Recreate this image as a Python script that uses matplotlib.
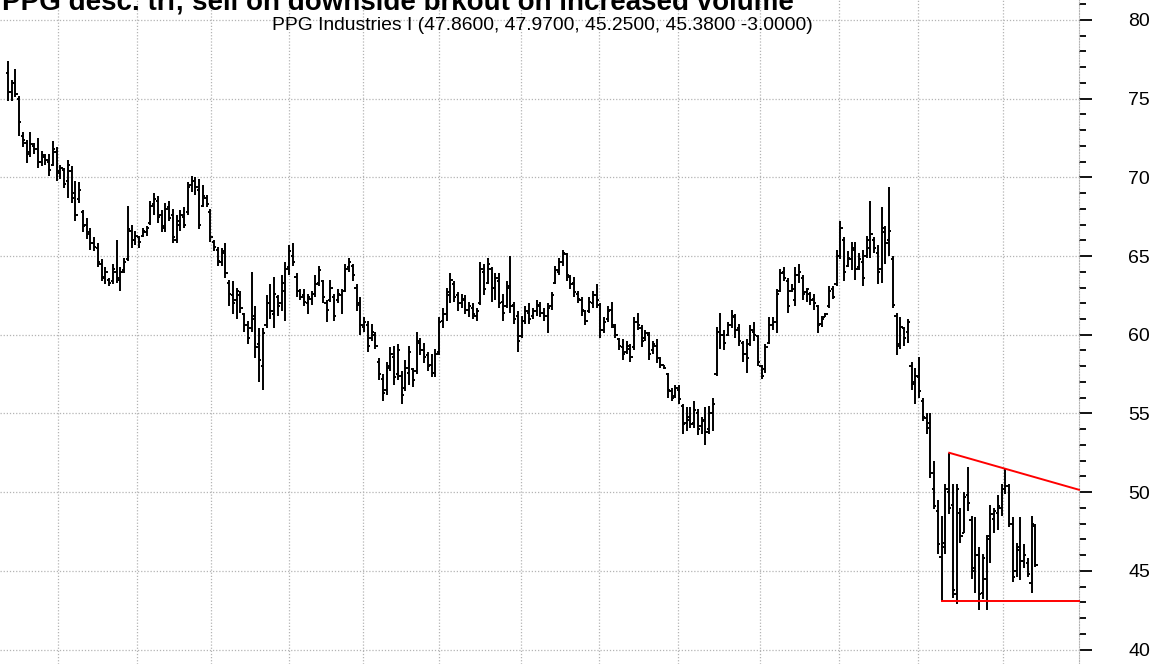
import matplotlib
matplotlib.use("Agg")
import matplotlib.pyplot as plt
from matplotlib.ticker import MultipleLocator
import numpy as np

plt.rcParams['font.family'] = ['Liberation Sans', 'DejaVu Sans']

title = "PPG desc. tri; sell on downside brkout on increased volume"
subtitle = "PPG Industries I (47.8600, 47.9700, 45.2500, 45.3800 -3.0000)"

# daily OHLC, oldest first
opens = [
    76.6, 75.4, 76.0, 75.0, 72.6, 72.2, 71.6, 72.0, 71.8, 71.0,
    71.3, 71.0, 70.8, 71.6, 70.3, 70.5, 69.8, 70.4, 69.0, 68.6,
    67.8, 67.0, 66.5, 65.8, 65.5, 64.5, 63.6, 63.5, 63.4, 64.0,
    63.5, 64.1, 64.8, 66.6, 66.0, 66.2, 66.3, 66.5, 67.1, 68.3,
    68.5, 67.6, 66.8, 68.1, 67.6, 66.0, 67.0, 67.5, 67.8, 69.5,
    69.8, 69.2, 68.2, 68.7, 67.8, 65.9, 65.4, 64.6, 65.3, 63.3,
    62.5, 62.2, 62.5, 61.3, 60.6, 60.4, 61.2, 59.4, 58.0, 60.6,
    62.0, 61.3, 62.4, 62.0, 62.8, 64.3, 65.0, 63.7, 62.8, 62.5,
    62.0, 62.3, 62.6, 63.3, 63.4, 62.0, 62.2, 62.4, 62.2, 62.5,
    62.8, 64.3, 64.4, 63.0, 62.0, 60.5, 60.6, 59.8, 60.0, 58.3,
    57.2, 56.5, 58.0, 58.6, 57.5, 57.4, 56.6, 57.6, 57.8, 57.7,
    59.5, 59.0, 58.7, 58.1, 57.6, 58.9, 60.9, 61.3, 62.5, 63.2,
    62.5, 62.0, 62.2, 61.6, 61.7, 61.2, 62.0, 64.0, 63.3, 64.2,
    63.0, 63.4, 62.1, 61.8, 63.1, 61.9, 61.2, 59.9, 60.9, 61.4,
    61.2, 61.5, 61.8, 61.4, 61.2, 61.8, 63.3, 64.0, 64.6, 65.1,
    63.7, 63.3, 62.6, 62.2, 61.5, 61.5, 62.0, 62.5, 61.9, 60.3,
    61.0, 61.6, 60.5, 59.7, 59.2, 58.9, 59.1, 59.2, 60.8, 60.4,
    59.8, 60.0, 59.0, 59.3, 58.5, 58.1, 57.5, 56.4, 56.1, 56.5,
    55.5, 54.4, 54.8, 54.4, 55.0, 54.2, 54.6, 54.0, 55.0, 57.5,
    60.2, 60.0, 60.0, 60.6, 61.1, 60.4, 59.5, 58.8, 59.4, 60.2,
    59.9, 58.0, 57.8, 59.5, 60.6, 60.8, 62.8, 64.0, 63.4, 62.8,
    62.2, 63.8, 63.6, 62.7, 62.6, 62.3, 61.8, 60.7, 61.1, 61.8,
    62.9, 63.2, 65.0, 66.0, 64.4, 64.8, 65.4, 64.3, 64.6, 65.0,
    65.5, 66.0, 65.2, 64.2, 66.5, 66.0, 64.8, 61.2, 59.4, 60.4,
    60.2, 58.0, 57.0, 57.3, 55.8, 54.7, 54.4, 50.2, 48.8, 45.9,
    46.8, 50.0, 49.2, 43.5, 48.7, 47.4, 49.8, 48.2, 45.2, 46.0,
    43.6, 44.5, 47.2, 48.3, 48.7, 49.0, 50.2, 50.4, 48.0, 45.0,
    46.5, 45.6, 45.5, 44.2, 47.86,
]
highs = [
    77.4, 76.2, 76.9, 75.2, 72.9, 72.4, 72.9, 72.2, 72.5, 71.7,
    71.5, 71.5, 72.3, 71.9, 70.8, 70.6, 71.1, 70.7, 69.8, 69.7,
    67.9, 67.4, 66.8, 66.2, 65.8, 64.8, 64.3, 63.6, 64.5, 66.0,
    64.3, 64.9, 68.2, 67.0, 66.6, 66.3, 66.8, 66.9, 68.5, 69.0,
    68.8, 67.9, 68.4, 68.5, 68.0, 67.6, 67.9, 68.1, 69.7, 70.1,
    70.0, 69.9, 69.5, 68.9, 68.0, 66.0, 65.6, 65.5, 65.8, 63.5,
    63.4, 63.0, 62.8, 61.4, 60.9, 64.0, 61.8, 60.4, 60.4, 62.5,
    63.2, 63.7, 62.5, 63.8, 64.6, 65.7, 65.8, 63.9, 62.9, 62.9,
    62.6, 62.8, 63.8, 64.4, 63.5, 62.2, 63.5, 62.6, 62.9, 62.9,
    64.5, 64.9, 64.5, 63.2, 62.4, 61.1, 60.9, 60.7, 60.2, 58.5,
    57.5, 58.3, 59.2, 59.3, 59.4, 57.7, 58.4, 59.3, 57.9, 60.2,
    59.8, 59.5, 58.9, 58.8, 59.1, 61.1, 61.7, 63.0, 63.9, 63.4,
    62.7, 62.6, 62.5, 62.1, 62.0, 61.7, 64.6, 64.5, 64.9, 64.3,
    63.9, 63.9, 62.6, 63.4, 65.0, 62.1, 61.5, 61.2, 61.8, 62.0,
    61.7, 62.2, 62.1, 61.7, 62.0, 62.7, 64.4, 64.9, 65.4, 65.2,
    63.8, 63.7, 62.8, 62.4, 61.6, 62.4, 62.8, 63.2, 62.0, 61.1,
    61.8, 62.1, 60.7, 59.8, 59.7, 59.6, 59.4, 61.1, 61.4, 60.6,
    60.3, 60.2, 59.6, 59.7, 58.6, 58.1, 57.6, 56.6, 56.8, 56.8,
    55.6, 55.4, 55.4, 55.8, 55.3, 54.8, 55.4, 55.5, 56.0, 60.5,
    61.4, 60.3, 60.8, 61.6, 61.3, 60.7, 59.6, 59.7, 60.6, 60.8,
    60.0, 58.1, 59.4, 61.1, 61.1, 62.9, 64.2, 64.3, 63.6, 63.2,
    64.3, 64.5, 63.8, 63.0, 62.7, 62.6, 61.9, 61.2, 61.4, 63.1,
    63.1, 65.4, 67.2, 66.2, 65.3, 65.9, 65.9, 65.2, 65.4, 66.3,
    68.5, 66.2, 65.7, 68.1, 66.9, 69.4, 65.0, 61.4, 61.1, 60.5,
    61.0, 58.3, 57.9, 58.6, 56.0, 55.0, 55.0, 52.0, 49.5, 48.5,
    50.5, 52.5, 50.5, 50.5, 49.0, 50.0, 51.6, 48.5, 48.4, 46.5,
    46.1, 47.3, 49.2, 49.0, 49.8, 50.5, 51.5, 50.5, 48.4, 46.8,
    48.4, 46.7, 45.8, 48.5, 47.97,
]
lows = [
    74.85, 74.85, 75.1, 72.6, 71.9, 70.9, 71.3, 71.5, 70.6, 70.7,
    70.8, 70.1, 70.7, 69.8, 69.9, 69.3, 68.7, 68.4, 67.2, 68.4,
    66.5, 66.1, 65.4, 65.3, 64.3, 63.4, 63.2, 63.1, 63.2, 63.3,
    62.8, 63.9, 64.7, 65.5, 65.7, 65.5, 66.2, 66.3, 67.0, 67.6,
    67.1, 66.5, 66.5, 67.2, 65.8, 65.8, 66.6, 66.8, 67.6, 69.1,
    68.9, 66.7, 68.1, 68.1, 65.9, 65.3, 64.4, 64.4, 63.6, 61.8,
    61.3, 61.0, 61.4, 60.2, 59.4, 60.2, 58.5, 57.0, 56.5, 60.4,
    61.0, 60.4, 61.2, 61.5, 60.9, 63.8, 64.4, 62.4, 62.2, 61.8,
    61.3, 61.9, 62.4, 63.1, 62.0, 60.8, 62.1, 60.9, 62.0, 61.3,
    62.7, 64.0, 63.4, 61.5, 60.0, 60.2, 58.9, 59.6, 59.1, 57.1,
    55.8, 56.2, 57.7, 56.8, 57.1, 55.6, 56.4, 56.8, 56.7, 57.5,
    58.7, 58.2, 57.7, 57.3, 57.3, 58.7, 60.4, 60.9, 62.0, 62.1,
    61.5, 61.7, 61.3, 61.1, 61.0, 60.9, 61.9, 62.5, 63.2, 62.1,
    62.2, 61.7, 60.9, 61.7, 61.4, 60.7, 58.9, 59.8, 60.7, 60.7,
    61.0, 61.2, 61.1, 60.9, 60.1, 61.6, 63.2, 63.8, 64.4, 63.4,
    62.9, 62.4, 62.0, 61.2, 60.6, 61.4, 61.7, 61.7, 59.8, 60.1,
    60.8, 60.4, 59.8, 59.0, 58.4, 58.8, 58.3, 59.0, 60.3, 59.2,
    59.6, 58.4, 58.8, 58.2, 57.9, 57.8, 56.0, 55.8, 56.0, 55.6,
    53.7, 53.9, 54.1, 54.1, 53.6, 53.7, 53.0, 53.7, 53.9, 57.4,
    59.1, 59.0, 59.9, 60.4, 59.8, 59.3, 58.3, 57.6, 59.3, 59.6,
    58.0, 57.2, 57.6, 59.4, 60.3, 60.1, 62.7, 63.4, 61.4, 62.7,
    61.8, 63.3, 62.2, 62.1, 61.9, 61.6, 60.1, 60.5, 61.1, 61.7,
    62.3, 63.1, 64.8, 63.4, 64.3, 64.1, 63.5, 64.1, 63.1, 64.9,
    64.9, 65.2, 63.2, 63.3, 64.5, 65.0, 61.7, 58.7, 59.1, 59.3,
    59.5, 56.5, 55.6, 56.0, 54.5, 53.7, 50.9, 48.9, 46.1, 43.1,
    46.1, 48.6, 43.3, 42.9, 46.8, 47.4, 48.8, 44.5, 43.6, 42.5,
    43.2, 42.5, 45.5, 47.4, 47.6, 48.5, 49.9, 47.8, 44.3, 44.6,
    44.4, 45.2, 44.6, 43.6, 45.25,
]
closes = [
    75.4, 76.0, 75.3, 73.5, 72.4, 71.5, 72.1, 71.8, 71.0, 71.4,
    71.1, 70.5, 71.8, 70.4, 70.6, 69.6, 70.8, 68.7, 67.6, 69.2,
    66.9, 66.4, 65.8, 65.6, 64.6, 63.7, 64.0, 63.3, 64.2, 63.6,
    64.0, 64.6, 66.7, 66.0, 66.3, 65.9, 66.6, 66.8, 68.2, 68.6,
    67.5, 66.9, 68.0, 67.4, 66.2, 67.2, 67.6, 67.0, 69.4, 69.8,
    69.4, 67.0, 68.8, 68.3, 66.2, 65.6, 64.7, 65.2, 63.9, 62.6,
    62.0, 62.8, 61.7, 60.6, 59.8, 61.0, 59.2, 58.4, 60.1, 62.0,
    61.5, 62.6, 61.8, 63.3, 64.2, 65.3, 64.6, 62.8, 62.4, 62.1,
    62.4, 62.6, 63.2, 64.1, 62.4, 61.6, 63.0, 61.2, 62.6, 62.8,
    64.2, 64.6, 63.8, 61.9, 60.6, 60.8, 59.3, 60.2, 59.3, 57.5,
    56.3, 57.9, 58.8, 57.3, 59.0, 56.2, 57.9, 58.9, 57.1, 59.6,
    59.0, 58.6, 58.0, 57.6, 58.8, 60.8, 61.3, 62.7, 63.5, 62.4,
    62.0, 62.3, 61.6, 61.8, 61.3, 61.5, 64.2, 62.9, 64.5, 63.0,
    63.6, 62.0, 61.4, 63.0, 61.8, 61.0, 59.6, 60.9, 61.5, 61.0,
    61.5, 61.9, 61.4, 61.2, 61.7, 62.5, 64.1, 64.6, 65.2, 63.8,
    63.2, 62.7, 62.3, 61.6, 60.9, 62.1, 62.5, 62.2, 60.3, 60.8,
    61.5, 60.6, 60.0, 59.3, 58.8, 59.3, 58.6, 60.8, 60.6, 59.6,
    60.1, 58.8, 59.4, 58.5, 58.1, 57.9, 56.5, 56.0, 56.6, 55.9,
    54.3, 54.6, 54.3, 55.2, 54.0, 54.5, 53.8, 55.0, 55.6, 60.2,
    60.0, 59.5, 60.6, 61.2, 60.3, 59.6, 58.8, 58.5, 60.3, 60.0,
    58.3, 57.4, 59.2, 60.6, 60.8, 62.6, 63.9, 63.6, 61.8, 62.9,
    63.8, 64.0, 62.6, 62.9, 62.2, 62.0, 60.6, 61.0, 61.3, 62.8,
    62.4, 65.0, 66.8, 64.0, 64.9, 65.5, 64.2, 64.8, 63.6, 66.0,
    66.4, 65.5, 64.0, 66.8, 65.8, 66.6, 61.9, 59.3, 60.5, 59.8,
    60.8, 56.9, 57.4, 56.4, 54.8, 54.1, 51.2, 49.1, 46.7, 46.5,
    50.2, 49.0, 43.8, 50.2, 47.2, 49.7, 49.3, 45.0, 46.0, 43.5,
    45.8, 47.0, 48.6, 48.8, 49.1, 50.2, 50.4, 48.0, 44.6, 46.3,
    45.6, 46.0, 44.8, 48.0, 45.38,
]

# month boundaries (in bar units) used as vertical grid lines
month_lines = [13.3, 34.4, 54.1, 74.9, 94.7, 114.9, 136.8, 157.6, 178.7,
               200.5, 221.6, 242.7, 265.3]

# triangle drawn on the chart: (bar, price) end points
resistance = [(251, 52.5), (285.6, 50.15)]
support = [(249, 43.1), (285.6, 43.1)]

fig = plt.figure(figsize=(11.66, 6.64), dpi=100)
ax = fig.add_axes([0, 0, 1079 / 1166, 1])
ax.set_xlim(-2.13, 285.6)
ax.set_ylim(39.08, 81.27)

x = np.arange(len(closes))
ax.vlines(x, lows, highs, color='black', lw=1.4, zorder=3)
ax.hlines(opens, x - 0.6, x, color='black', lw=1.4, zorder=3)
ax.hlines(closes, x, x + 0.6, color='black', lw=1.4, zorder=3)

for (x0, y0), (x1, y1) in [resistance, support]:
    ax.plot([x0, x1], [y0, y1], color='red', lw=1.4, zorder=4, clip_on=False)

grid_kw = dict(color='#b4b4b4', ls=(0, (1, 1.5)), lw=0.9, zorder=1)
for m in month_lines:
    ax.axvline(m, **grid_kw)
for p in range(40, 81, 5):
    ax.axhline(p, **grid_kw)

ax.yaxis.tick_right()
ax.yaxis.set_major_locator(MultipleLocator(5))
ax.yaxis.set_minor_locator(MultipleLocator(1))
ax.tick_params(axis='y', which='major', length=9.5, width=1.3, pad=26,
               labelsize=14, colors='black')
ax.tick_params(axis='y', which='minor', length=5, width=1.3)
ax.set_xticks([])
for side in ['left', 'top', 'bottom']:
    ax.spines[side].set_visible(False)
ax.spines['right'].set_color('#b4b4b4')
ax.spines['right'].set_linestyle((0, (1, 1.5)))

fig.text(0.002, 1 - 10 / 664, title, fontsize=20, fontweight='bold',
         va='baseline', ha='left')
fig.text(542 / 1166, 1 - 30 / 664, subtitle, fontsize=13.9,
         va='baseline', ha='center')

fig.savefig('out.png', dpi=100)
